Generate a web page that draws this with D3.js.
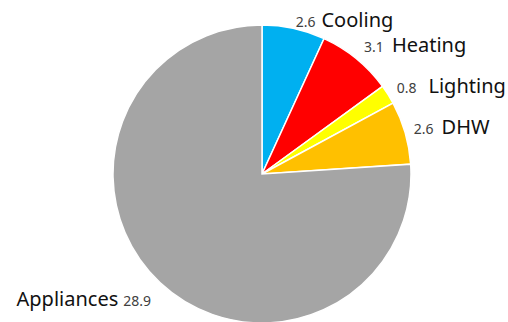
<!DOCTYPE html>
<html>
<head>
<meta charset="utf-8">
<script src="https://cdn.jsdelivr.net/npm/d3@7"></script>
<style>
  html, body { margin: 0; padding: 0; background: #fff; }
  svg { display: block; }
</style>
</head>
<body>
<div id="chart"></div>
<script>
// End-use breakdown
const categories = ["Cooling", "Heating", "Lighting", "DHW", "Appliances"];
const values = [2.6, 3.1, 0.8, 2.6, 28.9];
const valueLabels = ["2.6", "3.1", "0.8", "2.6", "28.9"];
const colors = ["#00B0F0", "#FF0000", "#FFFF00", "#FFC000", "#A5A5A5"];

const width = 508;
const height = 322;
const cx = 262;
const cy = 174;
const radius = 149;

const svg = d3.select("#chart")
    .append("svg")
    .attr("width", width)
    .attr("height", height);

const g = svg.append("g")
    .attr("transform", `translate(${cx},${cy})`);

const data = categories.map((c, i) => ({ name: c, value: values[i], label: valueLabels[i], color: colors[i] }));

const pie = d3.pie()
    .value(d => d.value)
    .sort(null);

const arcs = pie(data);

const arc = d3.arc()
    .innerRadius(0)
    .outerRadius(radius);

g.selectAll("path")
    .data(arcs)
    .join("path")
    .attr("d", arc)
    .attr("fill", d => d.data.color)
    .attr("stroke", "#fff")
    .attr("stroke-width", 1.5);

// labels sit just outside the rim along each slice's mid angle
// nudge: [dx, dy, gap between number and name]
const labelR = 158;
const nudge = {
    Cooling: [0, 7, 6],
    Heating: [2, 0, 8],
    Lighting: [1, 3, 12],
    DHW: [0, 4, 8],
    Appliances: [-3, 17, 5]
};

g.append("g")
    .selectAll("text")
    .data(arcs)
    .join("text")
    .attr("font-family", "'Segoe UI', 'Noto Sans', 'Open Sans', sans-serif")
    .each(function(d) {
        const a = (d.startAngle + d.endAngle) / 2;
        const n = nudge[d.data.name] || [0, 0, 6];
        const x = Math.sin(a) * labelR + n[0];
        const y = -Math.cos(a) * labelR + n[1];
        const right = Math.sin(a) >= 0;
        const t = d3.select(this)
            .attr("x", x)
            .attr("y", y)
            .attr("text-anchor", right ? "start" : "end");
        if (right) {
            t.append("tspan").attr("font-size", 14).attr("fill", "#404040").text(d.data.label);
            t.append("tspan").attr("font-size", 20).attr("fill", "#111").attr("dx", n[2]).text(d.data.name);
        } else {
            t.append("tspan").attr("font-size", 20).attr("fill", "#111").text(d.data.name);
            t.append("tspan").attr("font-size", 14).attr("fill", "#404040").attr("dx", n[2]).text(d.data.label);
        }
    });
</script>
</body>
</html>
